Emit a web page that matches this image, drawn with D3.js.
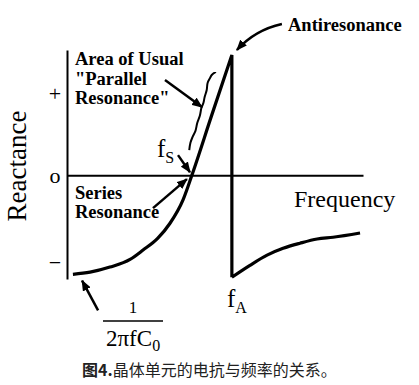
<!DOCTYPE html>
<html>
<head>
<meta charset="utf-8">
<script src="https://cdn.jsdelivr.net/npm/d3@7"></script>
<style>
  body { margin: 0; background: #fff; }
  svg { display: block; }
  .serif { font-family: "Liberation Serif", "DejaVu Serif", serif; fill: #000; }
  .axis path { stroke: #000; stroke-width: 2; }
  .axis text { font-family: "Liberation Serif", serif; font-size: 22px; fill: #000; }
</style>
</head>
<body>
<svg width="419" height="385"></svg>
<script>
// reactance curve of a crystal unit (frequency 0..100, reactance in rough units)
var leftFreq = [2, 7.8, 14.5, 21.3, 25.7, 30.7, 34.8, 39.2, 42.2, 48.9, 55.7];
var leftReact = [-1.165, -1.14, -1.08, -0.99, -0.88, -0.74, -0.565, -0.29, 0, 0.705, 1.41];
var rightFreq = [55.7, 61.8, 67.6, 73, 78.7, 84.5, 89.9, 99];
var rightReact = [-1.2, -1.06, -0.94, -0.86, -0.8, -0.75, -0.73, -0.68];

// hand drawn brace next to the "parallel resonance" part
var braceFreq = [41.3, 41.7, 42.4, 43.4, 44.0, 44.9, 45.4, 46.1, 46.5, 47.2, 47.5, 48.3, 48.9, 50.3];
var braceReact = [0.294, 0.38, 0.447, 0.52, 0.612, 0.70, 0.788, 0.85, 0.918, 1.0, 1.082, 1.14, 1.176, 1.212];

var tickValues = [0.965, 0, -1.02];
var tickLabels = ["+", "o", "\u2212"];

var svg = d3.select("svg");

var x = d3.scaleLinear().domain([0, 100]).range([67, 363]);
var y = d3.scaleLinear().domain([-1.22, 1.47]).range([279, 50]);

var defs = svg.append("defs");
defs.append("marker")
  .attr("id", "head")
  .attr("viewBox", "0 0 10 8")
  .attr("refX", 9)
  .attr("refY", 4)
  .attr("markerUnits", "userSpaceOnUse")
  .attr("markerWidth", 11)
  .attr("markerHeight", 9)
  .attr("orient", "auto")
  .append("path")
  .attr("d", "M0,0L10,4L0,8Z")
  .attr("fill", "#000");

// axes
svg.append("g")
  .attr("class", "axis")
  .attr("transform", "translate(0," + y(0) + ")")
  .call(d3.axisBottom(x).tickValues([]).tickSizeOuter(0));

var yAxis = svg.append("g")
  .attr("class", "axis")
  .attr("transform", "translate(" + x(0) + ",0)")
  .call(d3.axisLeft(y).tickValues(tickValues).tickSize(0).tickSizeOuter(0)
    .tickFormat(function(d, i) { return tickLabels[i]; }));
yAxis.selectAll("text")
  .attr("x", -12)
  .attr("text-anchor", "middle")
  .attr("dy", "0.32em");

// curve
var line = d3.line()
  .curve(d3.curveMonotoneX)
  .x(function(d) { return x(d[0]); })
  .y(function(d) { return y(d[1]); });

var left = leftFreq.map(function(f, i) { return [f, leftReact[i]]; });
var right = rightFreq.map(function(f, i) { return [f, rightReact[i]]; });

svg.append("path")
  .attr("d", line(left) + "L" + x(rightFreq[0]) + "," + y(rightReact[0]) + line(right).replace(/^M/, "L"))
  .attr("fill", "none")
  .attr("stroke", "#000")
  .attr("stroke-width", 3.2)
  .attr("stroke-linejoin", "miter");

var brace = braceFreq.map(function(f, i) { return [f, braceReact[i]]; });
svg.append("path")
  .attr("d", d3.line().curve(d3.curveCatmullRom)
    .x(function(d) { return x(d[0]); })
    .y(function(d) { return y(d[1]); })(brace))
  .attr("fill", "none")
  .attr("stroke", "#000")
  .attr("stroke-width", 2);

// arrows
var arrows = [
  [[33.1, 1.118], [45.6, 0.80]],
  [[37.5, 0.235], [41.55, 0.035]],
  [[29.05, -0.388], [40.5, -0.047]],
  [[10.5, -1.588], [5.1, -1.24]]
];
arrows.forEach(function(a) {
  svg.append("line")
    .attr("x1", x(a[0][0])).attr("y1", y(a[0][1]))
    .attr("x2", x(a[1][0])).attr("y2", y(a[1][1]))
    .attr("stroke", "#000")
    .attr("stroke-width", 2.5)
    .attr("marker-end", "url(#head)");
});
var p = d3.path();
p.moveTo(x(72.6), y(1.776));
p.quadraticCurveTo(x(63.5), y(1.706), x(57.4), y(1.47));
svg.append("path")
  .attr("d", p.toString())
  .attr("fill", "none")
  .attr("stroke", "#000")
  .attr("stroke-width", 2.5)
  .attr("marker-end", "url(#head)");

// labels
function label(txt, px, py, size, weight, anchor) {
  return svg.append("text")
    .attr("class", "serif")
    .attr("x", px).attr("y", py)
    .attr("font-size", size + "px")
    .attr("font-weight", weight || "normal")
    .attr("text-anchor", anchor || "start")
    .text(txt);
}

label("Antiresonance", 288, 31, 18.5, "bold");
label("Area of Usual", 75, 65, 18.5, "bold");
label("\"Parallel", 75, 85, 18.5, "bold");
label("Resonance\"", 75, 104, 18.5, "bold");
label("Series", 75, 199, 18.5, "bold");
label("Resonance", 75, 218, 18.5, "bold");
label("Frequency", 294, 207, 24);

svg.append("text")
  .attr("class", "serif")
  .attr("transform", "translate(26,166) rotate(-90)")
  .attr("text-anchor", "middle")
  .attr("font-size", "27px")
  .text("Reactance");

var fs = label("f", 157, 157, 25);
fs.append("tspan").attr("font-size", "16px").attr("dy", 6).text("S");
var fa = label("f", 227, 307, 25);
fa.append("tspan").attr("font-size", "16px").attr("dy", 6).text("A");

label("1", 133, 313, 17, "normal", "middle");
svg.append("line")
  .attr("x1", 103).attr("x2", 163)
  .attr("y1", 321).attr("y2", 321)
  .attr("stroke", "#000").attr("stroke-width", 1.5);
var frac = label("2\u03c0fC", 106, 346, 23);
frac.append("tspan").attr("font-size", "16px").attr("dy", 5).text("0");

var cap = svg.append("text")
  .attr("x", 82).attr("y", 376)
  .attr("font-family", "'Noto Sans CJK SC', sans-serif")
  .attr("font-size", "16px")
  .attr("fill", "#222");
cap.append("tspan").attr("font-weight", "bold").text("图4.");
cap.append("tspan").text("晶体单元的电抗与频率的关系。");
</script>
</body>
</html>
